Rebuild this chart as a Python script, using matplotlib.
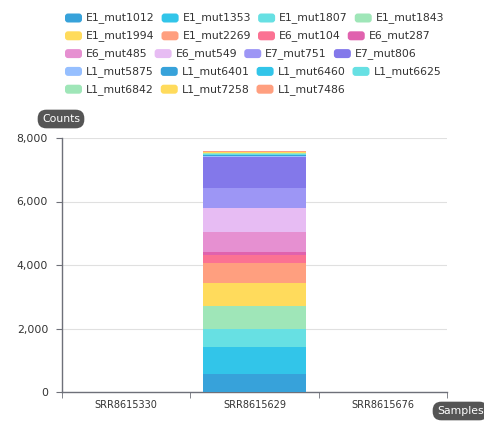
import numpy as np
import matplotlib.pyplot as plt
from matplotlib.patches import FancyBboxPatch

# Data
samples = ['SRR8615330', 'SRR8615629', 'SRR8615676']
mutations = ['E1_mut1012', 'E1_mut1353', 'E1_mut1807', 'E1_mut1843',
             'E1_mut1994', 'E1_mut2269', 'E6_mut104', 'E6_mut287',
             'E6_mut485', 'E6_mut549', 'E7_mut751', 'E7_mut806',
             'L1_mut5875', 'L1_mut6401', 'L1_mut6460', 'L1_mut6625',
             'L1_mut6842', 'L1_mut7258', 'L1_mut7486']
# counts for the middle sample, the other two samples have none
counts_629 = [580, 850, 545, 745, 700, 630, 265, 95, 640, 735, 630, 1000,
              15, 20, 30, 25, 20, 25, 25]
counts_330 = [0] * len(mutations)
counts_676 = [0] * len(mutations)

palette = ['#37A2DA', '#32C5E9', '#67E0E3', '#9FE6B8', '#FFDB5C', '#ff9f7f',
           '#fb7293', '#E062AE', '#E690D1', '#e7bcf3', '#9d96f5', '#8378EA',
           '#96BFFF']

W, H = 485, 421
fig = plt.figure(figsize=(W / 100, H / 100), dpi=100)
fig.patch.set_facecolor('white')
ax = fig.add_axes([62 / W, 1 - 392 / H, (447 - 62) / W, (392 - 138) / H])

values = np.array([counts_330, counts_629, counts_676]).T
x = np.arange(len(samples))
bottom = np.zeros(len(samples))
for i, name in enumerate(mutations):
    ax.bar(x, values[i], 0.8, bottom=bottom, color=palette[i % len(palette)],
           linewidth=0, zorder=3)
    bottom += values[i]

ax.set_xlim(-0.5, 2.5)
ax.set_ylim(0, 8000)
ax.set_yticks([0, 2000, 4000, 6000, 8000])
ax.set_yticklabels(['0', '2,000', '4,000', '6,000', '8,000'])
ax.set_xticks(x)
ax.set_xticklabels(samples)
ax.set_xticks([-0.5, 0.5, 1.5, 2.5], minor=True)
ax.tick_params(axis='x', which='major', length=0, pad=6, labelsize=7, labelcolor='#333333')
ax.tick_params(axis='x', which='minor', length=4, color='#6e7079')
ax.tick_params(axis='y', length=4, color='#6e7079', labelsize=7.8, labelcolor='#333333', pad=6)
ax.grid(axis='y', color='#e0e0e0', linewidth=0.8, zorder=0)
for s in ['top', 'right']:
    ax.spines[s].set_visible(False)
for s in ['left', 'bottom']:
    ax.spines[s].set_color('#6e7079')
    ax.spines[s].set_linewidth(1)

# axis name badges
fig.text(61 / W, 1 - 119 / H, 'Counts', ha='center', va='center', fontsize=7.8,
         color='white', bbox=dict(boxstyle='round,pad=0.4,rounding_size=0.8',
                                  fc='#555555', ec='none'))
fig.text(437 / W, 1 - 411 / H, 'Samples', ha='left', va='center', fontsize=7.8,
         color='white', bbox=dict(boxstyle='round,pad=0.4,rounding_size=0.8',
                                  fc='#555555', ec='none'))

# legend, laid out left to right and wrapped
renderer = fig.canvas.get_renderer()
lx, ly = 65, 18
for i, name in enumerate(mutations):
    t = fig.text(0, 0, name, fontsize=7.8, color='#333333', va='center', ha='left')
    tw = t.get_window_extent(renderer).width
    if lx + 21 + tw > 450:
        lx = 65
        ly += 17.8
    t.set_position(((lx + 21) / W, 1 - ly / H))
    fig.add_artist(FancyBboxPatch((lx, H - ly - 4.5), 17, 9,
                                  boxstyle='round,pad=0,rounding_size=3',
                                  fc=palette[i % len(palette)], ec='none',
                                  transform=None))
    lx += 21 + tw + 7

plt.savefig('out.png', dpi=100)
